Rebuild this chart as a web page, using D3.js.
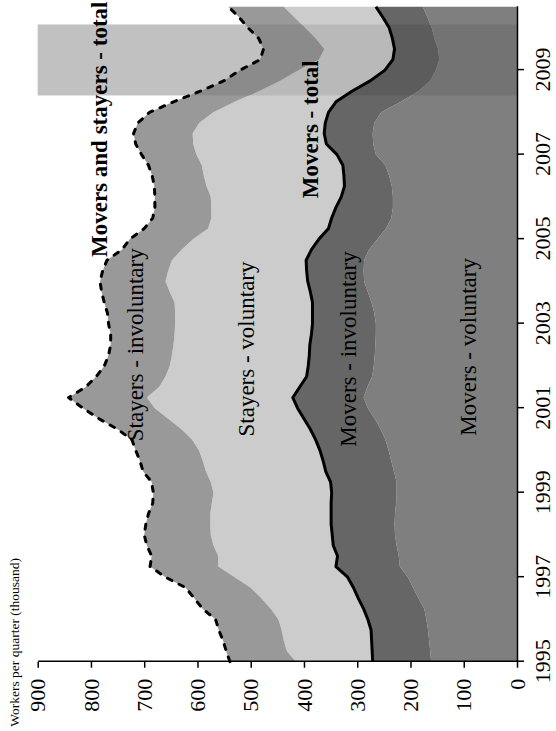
<!DOCTYPE html>
<html><head><meta charset="utf-8">
<script src="https://cdn.jsdelivr.net/npm/d3@7"></script>
<style>body{margin:0;background:#fff}svg{display:block}</style>
</head><body>
<svg id="c" width="556" height="731"></svg>
<script>
// Quarterly observations, 1995Q1 .. 2010Q3
const quarters = d3.range(63).map(i => 1995 + i / 4);
const moversVoluntary = [161,163,165,167, 170,174,185,195, 205,220,222,226, 229,230,229,227, 226,226,231,236, 241,247,256,267, 280,288,281,272, 269,267,266,265, 265,268,273,280, 287,288,287,278, 262,246,236,233, 233,235,240,247, 265,270,271,268, 255,218,185,163, 152,146,148,155, 160,168,177];
const moversInvoluntary = [110,109,108,107, 110,114,113,112, 113,120,115,119, 118,119,120,122, 122,124,128,128, 129,131,132,133, 132,133,127,123, 123,123,123,121, 119,116,111,108, 106,107,109,108, 110,108,112,107, 97,89,85,80, 73,88,91,92, 99,122,125,112, 96,87,82,79, 80,84,88];
const stayersVoluntary = [144,160,165,168, 168,174,182,193, 212,221,224,225, 228,227,227,224, 222,225,225,226, 227,232,242,255, 268,274,264,265, 260,258,256,257, 258,258,259,264, 267,260,252,244, 236,226,226,234, 245,259,263,265, 264,250,247,237, 216,190,175,170, 162,139,132,144, 158,166,173];
const stayersInvoluntary = [124,114,114,118, 118,128,126,122, 130,128,125,125, 125,121,116,111, 113,111,118,118, 119,113,120,130, 135,147,138,130, 123,119,118,120, 125,127,132,128, 123,123,122,112, 119,120,110,106, 105,98,97,100, 103,108,111,115, 120,115,110,105, 110,110,114,107, 107,104,104];
const seriesKeys = ["moversVoluntary","moversInvoluntary","stayersVoluntary","stayersInvoluntary"];
const seriesFill = {moversVoluntary:"#7f7f7f", moversInvoluntary:"#666666", stayersVoluntary:"#cccccc", stayersInvoluntary:"#999999"};
const valueTicks = [0,100,200,300,400,500,600,700,800,900];
const yearTicks = [1995,1997,1999,2001,2003,2005,2007,2009];
const recession = [2008.4, 2010.08];
const areaLabels = [
  {text:"Movers - voluntary", t:2002.45, v:77},
  {text:"Movers - involuntary", t:2002.4, v:302},
  {text:"Stayers - voluntary", t:2002.4, v:494},
  {text:"Stayers - involuntary", t:2002.5, v:702}
];
const lineLabels = [
  {text:"Movers - total", t:2007.6, v:374},
  {text:"Movers and stayers - total", t:2007.6, v:770}
];

const rows = quarters.map((q,i) => ({q, moversVoluntary:moversVoluntary[i], moversInvoluntary:moversInvoluntary[i], stayersVoluntary:stayersVoluntary[i], stayersInvoluntary:stayersInvoluntary[i]}));
const stack = d3.stack().keys(seriesKeys)(rows);

const W = 655, H = 479.3;
const svg = d3.select("#c");
svg.append("rect").attr("width",556).attr("height",731).attr("fill","#fff");
const g = svg.append("g").attr("transform","translate(37.7,661.7) rotate(-90)");
const x = d3.scaleLinear().domain([1995, 2010.5]).range([0, W]);
const y = d3.scaleLinear().domain([0, 900]).range([H, 0]);

// recession band (background part)
g.append("rect").attr("x", x(recession[0])).attr("width", x(recession[1]) - x(recession[0]))
  .attr("y", y(900)).attr("height", y(0) - y(900)).attr("fill", "#d5d5d5");

const area = d3.area().x(d => x(d.data.q)).y0(d => y(d[0])).y1(d => y(d[1]));
g.selectAll("path.layer").data(stack).join("path").attr("class","layer")
  .attr("d", area).attr("fill", d => seriesFill[d.key]);

// recession band overlay
g.append("rect").attr("x", x(recession[0])).attr("width", x(recession[1]) - x(recession[0]))
  .attr("y", y(900)).attr("height", y(0) - y(900)).attr("fill", "#000").attr("fill-opacity", 0.09);

const line = d3.line().x(d => x(d.data.q)).y(d => y(d[1]));
g.append("path").datum(stack[1]).attr("d", line).attr("fill","none").attr("stroke","#000")
  .attr("stroke-width",3).attr("stroke-linejoin","round");
g.append("path").datum(stack[3]).attr("d", line).attr("fill","none").attr("stroke","#000")
  .attr("stroke-width",3).attr("stroke-dasharray","5,8").attr("stroke-linecap","round").attr("stroke-linejoin","round");

const font = "Liberation Serif, Times New Roman, serif";
const ya = g.append("g").call(d3.axisLeft(y).tickValues(valueTicks).tickSize(6).tickSizeOuter(0).tickPadding(11));
const xa = g.append("g").attr("transform",`translate(0,${H})`)
  .call(d3.axisBottom(x).tickValues(yearTicks).tickFormat(d3.format("d")).tickSize(7).tickSizeOuter(0).tickPadding(10));
[ya, xa].forEach(a => {
  a.selectAll("text").attr("font-family", font).attr("font-size", 22).attr("fill","#000");
  a.selectAll("line,path").attr("stroke","#000").attr("stroke-width",1.5);
});

g.append("text").attr("x",-65).attr("y",-18.5).attr("font-family",font).attr("font-size",13.5)
  .text("Workers per quarter (thousand)");

g.selectAll("text.al").data(areaLabels).join("text").attr("class","al")
  .attr("x", d => x(d.t)).attr("y", d => y(d.v)).attr("text-anchor","middle")
  .attr("font-family", font).attr("font-size", 23).text(d => d.text);
g.selectAll("text.ll").data(lineLabels).join("text").attr("class","ll")
  .attr("x", d => x(d.t)).attr("y", d => y(d.v)).attr("text-anchor","middle")
  .attr("font-family", font).attr("font-weight","bold").attr("font-size", 23).text(d => d.text);
</script>
</body></html>
